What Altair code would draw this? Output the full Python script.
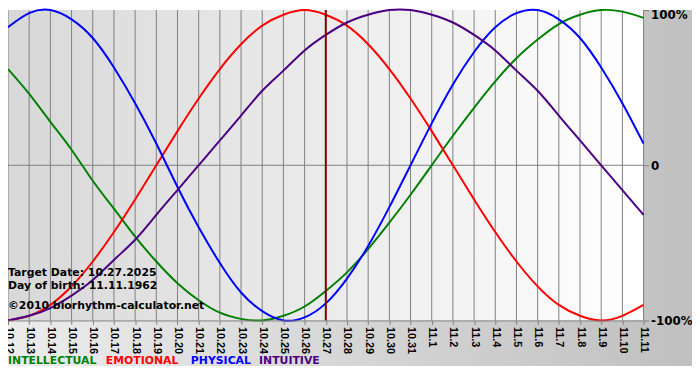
import altair as alt
import pandas as pd

days = ["10.12", "10.13", "10.14", "10.15", "10.16", "10.17", "10.18", "10.19", "10.20",
        "10.21", "10.22", "10.23", "10.24", "10.25", "10.26", "10.27", "10.28", "10.29",
        "10.30", "10.31", "11.1", "11.2", "11.3", "11.4", "11.5", "11.6", "11.7", "11.8",
        "11.9", "11.10", "11.11"]

intellectual = [0.62, 0.46, 0.28, 0.10, -0.10, -0.28, -0.46, -0.62, -0.76, -0.87, -0.95,
                -0.99, -1.00, -0.97, -0.91, -0.81, -0.69, -0.54, -0.37, -0.19, 0.00, 0.19,
                0.37, 0.54, 0.69, 0.81, 0.91, 0.97, 1.00, 0.99, 0.95]
emotional = [-1.00, -0.97, -0.90, -0.78, -0.62, -0.43, -0.22, 0.00, 0.22, 0.43, 0.62, 0.78,
             0.90, 0.97, 1.00, 0.97, 0.90, 0.78, 0.62, 0.43, 0.22, 0.00, -0.22, -0.43, -0.62,
             -0.78, -0.90, -0.97, -1.00, -0.97, -0.90]
physical = [0.89, 0.98, 1.00, 0.94, 0.82, 0.63, 0.40, 0.14, -0.14, -0.40, -0.63, -0.82, -0.94,
            -1.00, -0.98, -0.89, -0.73, -0.52, -0.27, 0.00, 0.27, 0.52, 0.73, 0.89, 0.98, 1.00,
            0.94, 0.82, 0.63, 0.40, 0.14]
intuitive = [-1.00, -0.97, -0.92, -0.84, -0.74, -0.61, -0.48, -0.32, -0.16, 0.00, 0.16, 0.32,
             0.48, 0.61, 0.74, 0.84, 0.92, 0.97, 1.00, 1.00, 0.97, 0.92, 0.84, 0.74, 0.61, 0.48,
             0.32, 0.16, 0.00, -0.16, -0.32]

series_names = ["INTELLECTUAL", "EMOTIONAL", "PHYSICAL", "INTUITIVE"]
series_colors = ["#008000", "#ff0000", "#0000ff", "#4b0082"]
series_values = [intellectual, emotional, physical, intuitive]

target_day = "10.27"
info_lines = ["Target Date: 10.27.2025", "Day of birth: 11.11.1962", "©2010 biorhythm-calculator.net"]
y_ticks = [-1, 0, 1]
y_labels = ["-100%", "0", "100%"]

W, H = 643, 314
PAD_R, PAD_B = 49, 46

rows = []
for name, vals in zip(series_names, series_values):
    for i, (d, v) in enumerate(zip(days, vals)):
        rows.append({"series": name, "day": d, "idx": i, "value": v})
df = pd.DataFrame(rows)
day_df = pd.DataFrame({"day": days, "idx": list(range(len(days)))})

label_expr = " : ".join(
    f"datum.value == {t} ? '{l}'" for t, l in zip(y_ticks, y_labels)
) + " : ''"

xaxis = alt.Axis(orient="bottom", labelAngle=90, labelAlign="left", labelBaseline="middle",
                 tickSize=4, tickColor="#808080", domainColor="#808080", grid=False,
                 labelFont="Liberation Sans Narrow, Liberation Sans", labelFontSize=11,
                 labelFontWeight="bold", labelColor="#000000", labelPadding=2, title=None,
                 zindex=1, labelOverlap=False)
yaxis = alt.Axis(orient="right", values=y_ticks, labelExpr=label_expr, tickSize=5,
                 tickColor="#808080", domain=False, grid=False, labelFont="DejaVu Sans",
                 labelFontSize=12, labelFontWeight="bold", labelColor="#000000",
                 labelPadding=2, labelBaseline="middle", title=None, zindex=1,
                 labelOffset={"condition": {"test": "datum.value == 1", "value": 5}, "value": 0})

xscale = alt.Scale(type="point", padding=0, domain=days)
yscale = alt.Scale(domain=[-1, 1], nice=False, zero=False)

one = alt.Data(values=[{}])

outer_grad = alt.LinearGradient(gradient="linear",
                                stops=[alt.GradientStop(color="#ececec", offset=0),
                                       alt.GradientStop(color="#c0c0c0", offset=1)],
                                x1=0, x2=1, y1=0, y2=0)
plot_grad = alt.LinearGradient(gradient="linear",
                               stops=[alt.GradientStop(color="#d8d8d8", offset=0),
                                      alt.GradientStop(color="#ffffff", offset=1)],
                               x1=0, x2=1, y1=0, y2=0)

outer_bg = alt.Chart(one).mark_rect(fill=outer_grad).encode(
    x=alt.value(0), x2=alt.value(W + PAD_R), y=alt.value(0), y2=alt.value(H + PAD_B))
plot_bg = alt.Chart(one).mark_rect(fill=plot_grad).encode(
    x=alt.value(0), x2=alt.value(W), y=alt.value(0), y2=alt.value(H))

grid = alt.Chart(day_df).mark_rule(color="#808080", strokeWidth=1).encode(
    x=alt.X("day:O", scale=xscale, axis=xaxis, sort=days))

zero_line = alt.Chart(one).mark_rule(color="#808080", strokeWidth=1).encode(
    y=alt.Y(datum=0, scale=yscale, axis=yaxis))

curves = alt.Chart(df).mark_line(strokeWidth=2, interpolate="natural").encode(
    x=alt.X("day:O", scale=xscale, axis=xaxis, sort=days),
    y=alt.Y("value:Q", scale=yscale, axis=yaxis),
    color=alt.Color("series:N", scale=alt.Scale(domain=series_names, range=series_colors),
                    legend=None),
    order=alt.Order("idx:Q"),
)

target = alt.Chart(pd.DataFrame({"day": [target_day]})).mark_rule(
    color="#800000", strokeWidth=2).encode(
    x=alt.X("day:O", scale=xscale, axis=xaxis, sort=days))

info_y = [269, 282, 302]
info_layers = [
    alt.Chart(one).mark_text(align="left", baseline="alphabetic", font="DejaVu Sans",
                             fontSize=11, fontWeight="bold", color="#000000").encode(
        x=alt.value(0), y=alt.value(yy), text=alt.value(t))
    for t, yy in zip(info_lines, info_y)
]

legend_x = [0, 99, 185, 254]
legend_layers = [
    alt.Chart(one).mark_text(align="left", baseline="alphabetic", font="DejaVu Sans",
                             fontSize=11, fontWeight="bold", color=c).encode(
        x=alt.value(lx), y=alt.value(H + 44), text=alt.value(n))
    for n, c, lx in zip(series_names, series_colors, legend_x)
]

chart = alt.layer(outer_bg, plot_bg, grid, zero_line, curves, target,
                  *info_layers, *legend_layers).properties(
    width=W, height=H,
    autosize=alt.AutoSizeParams(type="none"),
    padding={"left": 0, "top": 0, "right": PAD_R, "bottom": PAD_B},
    background="#ffffff",
).configure_view(strokeWidth=0)

chart.save("out.html", embed_options={"renderer": "svg", "actions": False})
